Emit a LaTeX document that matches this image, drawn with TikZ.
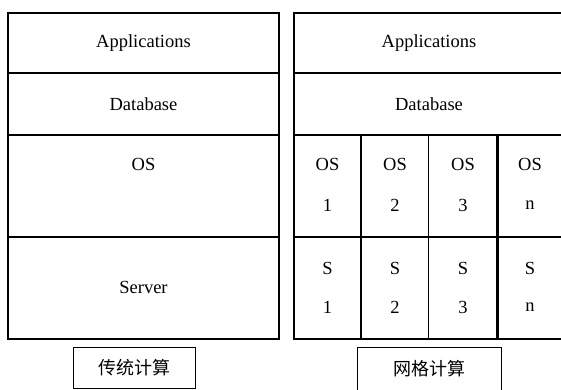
\documentclass[tikz,border=0pt]{standalone}
\usepackage{fontspec}
\setmainfont{Liberation Serif}
\newfontfamily\cjk{Noto Sans CJK SC}
\tikzset{
  frame/.style={draw=black, line width=1.4pt},
  sep/.style={draw=black, line width=1.4pt},
  thicksep/.style={draw=black, line width=2.6pt},
  lbl/.style={inner sep=0pt, font=\fontsize{18.5}{20}\selectfont},
  cjklbl/.style={inner sep=0pt, font=\cjk\fontsize{18}{20}\selectfont},
}
\begin{document}
\begin{tikzpicture}[x=1pt,y=-1pt]
\useasboundingbox (0,0) rectangle (561,390);
% left stack
\draw[frame] (8,13) rectangle (279,339);
\draw[sep] (8,73) -- (279,73);
\draw[sep] (8,135) -- (279,135);
\draw[sep] (8,237) -- (279,237);
\node[lbl] (lapp) at (143.5,43) {Applications};
\node[lbl] (ldb) at (143.5,104) {Database};
\node[lbl] (los) at (143.5,164) {OS};
\node[lbl] (lsrv) at (143.5,287) {Server};
% right stack
\draw[frame] (294,13) rectangle (566,339);
\draw[sep] (294,73) -- (566,73);
\draw[sep] (294,135) -- (566,135);
\draw[sep] (294,237) -- (566,237);
\draw[sep] (361,135) -- (361,339);
\draw[sep] (428.7,135) -- (428.7,339);
\draw[thicksep] (497.3,135) -- (497.3,339);
\node[lbl] (rapp) at (429,43) {Applications};
\node[lbl] (rdb) at (429,104) {Database};
\foreach \x/\n/\k in {327.5/1/a,395/2/b,463/3/c,530/n/d}{
  \node[lbl] (os\k) at (\x,164) {OS};
  \node[lbl] (osn\k) at (\x,205) {\n};
  \node[lbl] (s\k) at (\x,268) {S};
  \node[lbl] (sn\k) at (\x,307) {\n};
}
% captions
\draw[line width=1pt] (73.5,347.5) rectangle (195,388.5);
\node[cjklbl] (cap1) at (134,368) {传统计算};
\draw[line width=1pt] (357,347.5) rectangle (501.5,395);
\node[cjklbl] (cap2) at (429,369) {网格计算};
\end{tikzpicture}
\end{document}
